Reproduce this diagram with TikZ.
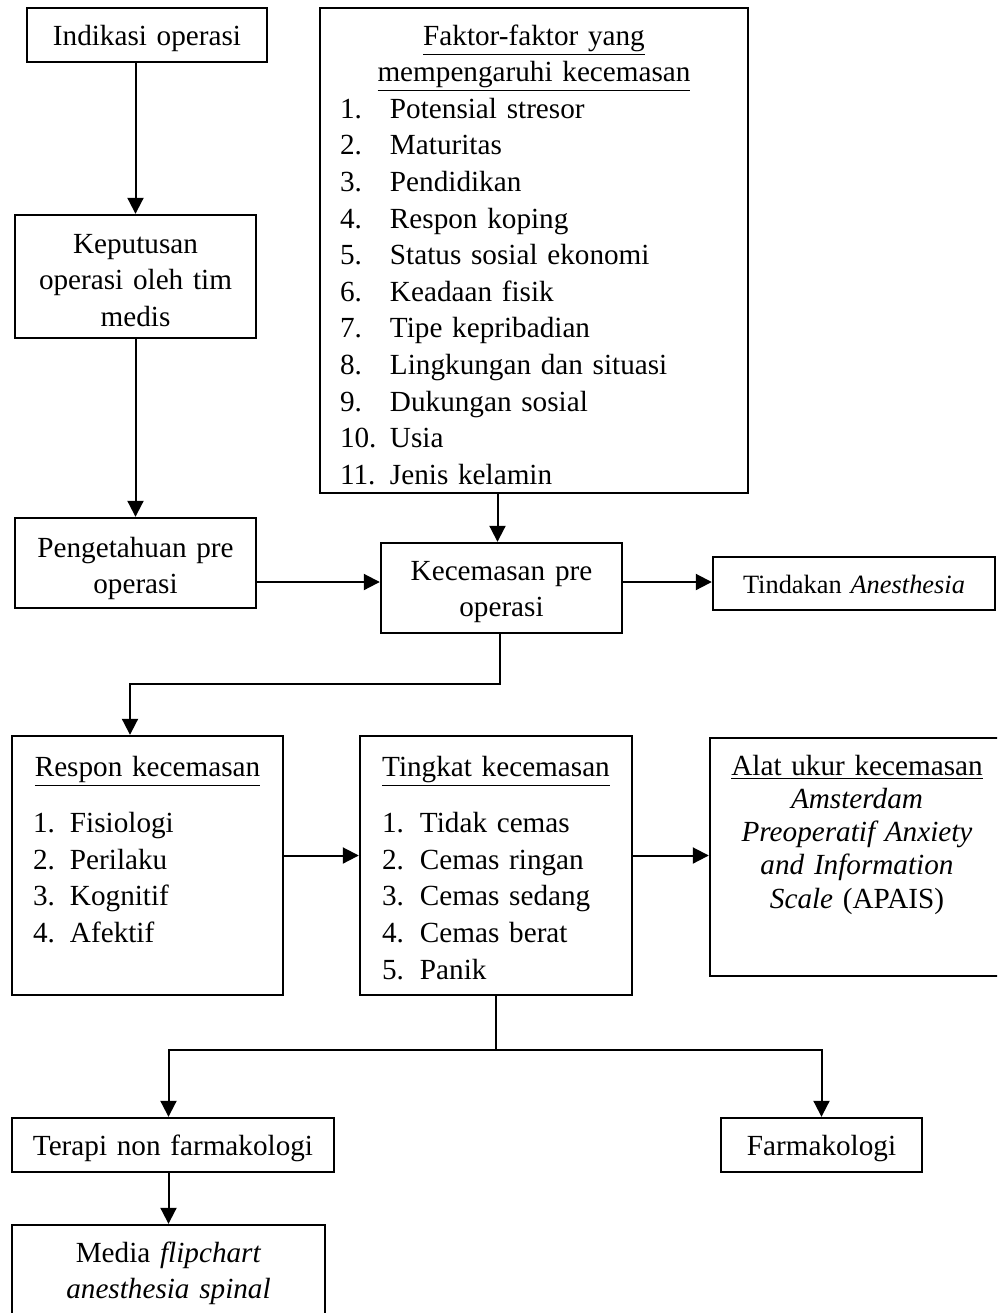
\documentclass[tikz,border=0pt]{standalone}
\usepackage{fontspec}
\setmainfont{Liberation Serif}
\usetikzlibrary{arrows.meta}

\tikzset{
    kotak/.style={draw, line width=1.2pt, inner xsep=5pt, inner ysep=0pt, align=center,
        font=\fontsize{14.6}{18.3}\selectfont},
    daftar/.style={kotak, align=left},
    panah/.style={line width=1pt, -{Triangle[length=8pt,width=8pt]}},
    garis/.style={line width=1pt}
}
\newcommand{\nomor}[2]{\makebox[#1][l]{#2}}
\newcommand{\judul}[1]{\makebox[\linewidth][c]{\underline{#1}}}

\begin{document}
\begin{tikzpicture}[x=0.5pt, y=-0.5pt]
    \useasboundingbox (0,0) rectangle (997,1313);
    \clip (0,0) rectangle (997,1313);

    % kolom kiri atas
    \node[kotak, text width=110pt, text height=18.5pt, text depth=8.5pt] (indikasi) at (147,35) {Indikasi operasi};
    \node[kotak, text width=110.5pt, text height=19pt, text depth=42.5pt] (keputusan) at (135.5,276.5) {Keputusan\\operasi oleh tim\\medis};
    \node[kotak, text width=110.5pt, text height=19.5pt, text depth=25.5pt] (pengetahuan) at (135.5,563) {Pengetahuan pre\\operasi};

    % faktor dan kecemasan
    \node[daftar, inner xsep=10pt, text width=194pt, text height=18.5pt, text depth=224pt] (faktor) at (534,250.5) {%
        \judul{Faktor-faktor yang}\\
        \judul{mempengaruhi kecemasan}\\
        \nomor{25pt}{1.}Potensial stresor\\
        \nomor{25pt}{2.}Maturitas\\
        \nomor{25pt}{3.}Pendidikan\\
        \nomor{25pt}{4.}Respon koping\\
        \nomor{25pt}{5.}Status sosial ekonomi\\
        \nomor{25pt}{6.}Keadaan fisik\\
        \nomor{25pt}{7.}Tipe kepribadian\\
        \nomor{25pt}{8.}Lingkungan dan situasi\\
        \nomor{25pt}{9.}Dukungan sosial\\
        \nomor{25pt}{10.}Usia\\
        \nomor{25pt}{11.}Jenis kelamin};
    \node[kotak, text width=110.5pt, text height=18.5pt, text depth=26.5pt] (kecemasan) at (501.5,588) {Kecemasan pre\\operasi};
    \node[kotak, font=\fontsize{13.2}{16}\selectfont, text width=131pt, text height=18pt, text depth=8.5pt] (tindakan) at (854,583.5) {Tindakan \textit{Anesthesia}};

    % baris tengah
    \node[daftar, inner xsep=10.5pt, text width=114.5pt, text height=20pt, text depth=109.5pt] (respon) at (147.5,865.5) {%
        \judul{Respon kecemasan}\\[10pt]
        \nomor{18.5pt}{1.}Fisiologi\\
        \nomor{18.5pt}{2.}Perilaku\\
        \nomor{18.5pt}{3.}Kognitif\\
        \nomor{18.5pt}{4.}Afektif};
    \node[daftar, inner xsep=11pt, text width=114pt, text height=20pt, text depth=109.5pt] (tingkat) at (496,865.5) {%
        \judul{Tingkat kecemasan}\\[10pt]
        \nomor{19pt}{1.}Tidak cemas\\
        \nomor{19pt}{2.}Cemas ringan\\
        \nomor{19pt}{3.}Cemas sedang\\
        \nomor{19pt}{4.}Cemas berat\\
        \nomor{19pt}{5.}Panik};
    \node[kotak, font=\fontsize{14.6}{16.65}\selectfont, text width=137pt, text height=18.5pt, text depth=100.5pt] (alat) at (857,857) {%
        \underline{Alat ukur kecemasan}\\
        \textit{Amsterdam}\\
        \textit{Preoperatif Anxiety}\\
        \textit{and Information}\\
        \textit{Scale} (APAIS)};

    % terapi
    \node[kotak, text width=151pt, text height=18.5pt, text depth=8.5pt] (terapi) at (173,1145) {Terapi non farmakologi};
    \node[kotak, text width=90.5pt, text height=18.5pt, text depth=8.5pt] (farmakologi) at (821.5,1145) {Farmakologi};
    \node[kotak, text width=146.5pt, text height=18.5pt, text depth=39pt] (media) at (168.5,1282.5) {Media \textit{flipchart}\\\textit{anesthesia spinal}};

    \coordinate (belok) at (130,684);
    \coordinate (cabang) at (496,1050);

    \draw[panah] (keputusan.north |- indikasi.south) -- (keputusan.north);
    \draw[panah] (keputusan.south) -- (pengetahuan.north);
    \draw[panah] ([xshift=-2pt]kecemasan.north |- faktor.south) -- ([xshift=-2pt]kecemasan.north);
    \draw[panah] ([yshift=3pt]kecemasan.west -| pengetahuan.east) -- ([yshift=3pt]kecemasan.west);
    \draw[panah] ([yshift=3pt]kecemasan.east) -- ([yshift=3pt]kecemasan.east -| tindakan.west);
    \draw[panah] ([xshift=-1pt]kecemasan.south) |- (belok) -- (belok |- respon.north);
    \draw[panah] ([yshift=5pt]respon.east) -- ([yshift=5pt]respon.east -| tingkat.west);
    \draw[panah] ([yshift=5pt]tingkat.east) -- ([yshift=5pt]tingkat.east -| alat.west);
    \draw[garis] (tingkat.south) -- (cabang);
    \draw[panah] (cabang) -| (media.north |- terapi.north);
    \draw[panah] (cabang) -| (farmakologi.north);
    \draw[panah] (media.north |- terapi.south) -- (media.north);
\end{tikzpicture}
\end{document}
